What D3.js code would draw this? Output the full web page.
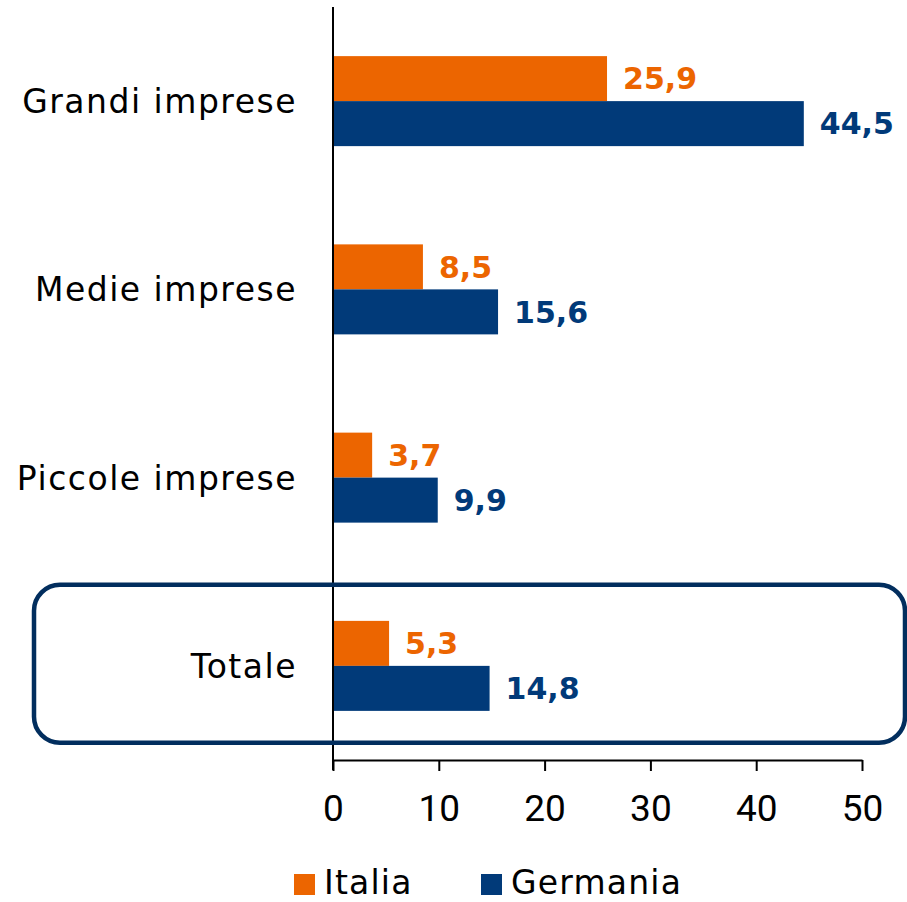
<!DOCTYPE html>
<html>
<head>
<meta charset="utf-8">
<script src="https://cdn.jsdelivr.net/npm/d3@7"></script>
<style>
  body { margin: 0; background: #fff; }
  text { font-family: "Century Gothic", "URW Gothic", "DejaVu Sans", sans-serif; }
</style>
</head>
<body>
<script>
// Data
const categories = ['Grandi imprese', 'Medie imprese', 'Piccole imprese', 'Totale'];
const italia = [25.9, 8.5, 3.7, 5.3];
const germania = [44.5, 15.6, 9.9, 14.8];
const seriesNames = ['Italia', 'Germania'];
const colors = ['#ec6500', '#013a79'];
const xTicks = [0, 10, 20, 30, 40, 50];

var W = 907, H = 902;
var margin = { top: 7, right: 45, bottom: 142, left: 333 },
    width = W - margin.left - margin.right,
    height = H - margin.top - margin.bottom;

var svg = d3.select("body")
    .append("svg")
    .attr("width", W)
    .attr("height", H);

var g = svg.append("g")
    .attr("transform", `translate(${margin.left},${margin.top})`);

var x = d3.scaleLinear()
    .domain([0, 50])
    .range([0, width]);

var y = d3.scaleBand()
    .domain(categories)
    .range([0, height]);

var inner = d3.scaleBand()
    .domain(seriesNames)
    .range([y.bandwidth() / 2 - 45, y.bandwidth() / 2 + 45]);

// highlight box round "Totale"
svg.append("rect")
    .attr("x", 34)
    .attr("y", margin.top + y('Totale') + 13)
    .attr("width", 871)
    .attr("height", 158)
    .attr("rx", 26)
    .attr("fill", "none")
    .attr("stroke", "#022e5e")
    .attr("stroke-width", 4.5);

var rows = categories.map(function (c, i) {
    return { cat: c, values: [italia[i], germania[i]] };
});

var groups = g.selectAll(".cat")
    .data(rows)
    .enter().append("g")
    .attr("transform", d => `translate(0,${y(d.cat)})`);

groups.selectAll("rect")
    .data(d => d.values.map((v, j) => ({ v: v, s: seriesNames[j], j: j })))
    .enter().append("rect")
    .attr("x", 0)
    .attr("y", d => inner(d.s))
    .attr("width", d => x(d.v))
    .attr("height", inner.bandwidth())
    .attr("fill", d => colors[d.j]);

groups.selectAll(".lbl")
    .data(d => d.values.map((v, j) => ({ v: v, s: seriesNames[j], j: j })))
    .enter().append("text")
    .attr("class", "lbl")
    .attr("x", d => x(d.v) + 16)
    .attr("y", d => inner(d.s) + inner.bandwidth() / 2)
    .attr("dy", "0.36em")
    .attr("fill", d => colors[d.j])
    .style("font-size", "30px")
    .style("font-weight", "bold")
    .text(d => d3.format(".1f")(d.v).replace(".", ","));

// category labels
g.selectAll(".catlbl")
    .data(categories)
    .enter().append("text")
    .attr("x", -36)
    .attr("y", d => y(d) + y.bandwidth() / 2)
    .attr("dy", "0.36em")
    .attr("text-anchor", "end")
    .style("font-size", "33px")
    .style("letter-spacing", "1.5px")
    .attr("fill", "#000")
    .text(d => d);

// vertical axis line
g.append("line")
    .attr("x1", 0).attr("x2", 0)
    .attr("y1", 0).attr("y2", height + 10)
    .attr("stroke", "#000")
    .attr("stroke-width", 2);

// x axis
var xAxis = g.append("g")
    .attr("transform", `translate(0,${height})`)
    .call(d3.axisBottom(x).tickValues(xTicks).tickSize(11).tickSizeOuter(0));
xAxis.select(".domain").attr("stroke", "#000").attr("stroke-width", 2);
xAxis.selectAll(".tick line").attr("stroke", "#000").attr("stroke-width", 2);
xAxis.selectAll(".tick text")
    .attr("y", 48)
    .attr("dy", "0.36em")
    .style("font-size", "37px")
    .style("font-family", "'Liberation Sans Narrow', 'Roboto', sans-serif")
    .attr("fill", "#000");

// legend
var legendX = [294, 481];
var legend = svg.selectAll(".leg")
    .data(seriesNames)
    .enter().append("g")
    .attr("transform", (d, i) => `translate(${legendX[i]},0)`);
legend.append("rect")
    .attr("x", 0).attr("y", 874)
    .attr("width", 21).attr("height", 21)
    .attr("fill", (d, i) => colors[i]);
legend.append("text")
    .attr("x", 30)
    .attr("y", 894)
    .style("font-size", "33px")
    .style("letter-spacing", "1.2px")
    .text(d => d);
</script>
</body>
</html>
